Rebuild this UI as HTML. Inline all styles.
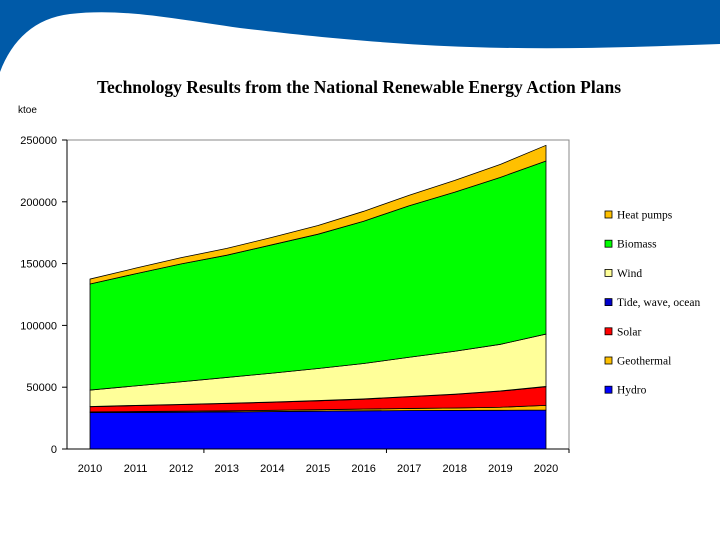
<!DOCTYPE html>
<html><head><meta charset="utf-8"><style>
html,body{margin:0;padding:0;background:#fff;width:720px;height:540px;overflow:hidden}
</style></head><body>
<svg id="chart" width="720" height="540" xmlns="http://www.w3.org/2000/svg">
<path d="M0,0 H720 V44 C640,47 560,50 470,47 C380,44 300,35 240,28 C170,18 120,8 70,14 C35,18 12,40 0,72 Z" fill="#005aa8"/>
<text x="359" y="93" text-anchor="middle" font-family="Liberation Serif, serif" font-weight="bold" font-size="17.5" fill="#000">Technology Results from the National Renewable Energy Action Plans</text>
<text x="18" y="113" font-family="Liberation Sans, sans-serif" font-size="10" fill="#000">ktoe</text>
<g id="plot"></g>
<g id="legend"></g>
</svg>
<script>
const years = ["2010","2011","2012","2013","2014","2015","2016","2017","2018","2019","2020"];
const seriesNames = ["Hydro","Geothermal","Solar","Tide, wave, ocean","Wind","Biomass","Heat pumps"];
const seriesColors = ["#0000ff","#ffc000","#ff0000","#0000cc","#ffff99","#00ff00","#ffc000"];
const hydro = [29400,29600,29800,30000,30300,30600,30900,31100,31200,31300,31500];
const geothermal = [600,700,800,900,1000,1200,1400,1700,2000,2500,3800];
const solar = [4200,4800,5300,5900,6500,7200,8000,9500,11000,13000,15100];
const tide = [200,200,200,200,200,200,200,200,200,200,200];
const wind = [13300,15800,18300,20900,23400,25900,28700,31700,34700,37700,42400];
const biomass = [85800,90700,95400,98900,103900,108700,115100,122600,128700,135100,140000];
const heatPumps = [4000,4500,5000,5500,6000,7000,8000,8500,9500,10500,12700];
const yTicks = [0,50000,100000,150000,200000,250000];

const allSeries = [hydro,geothermal,solar,tide,wind,biomass,heatPumps];
const NS="http://www.w3.org/2000/svg";
const L=67,R=569,T=140,B=449,yMax=250000;
const x0=90,x1=546;
function xPos(i){return x0+(x1-x0)*i/(years.length-1);}
function yPos(v){return B-(B-T)*v/yMax;}
function mk(tag,attrs,parent){const e=document.createElementNS(NS,tag);for(const k in attrs)e.setAttribute(k,attrs[k]);parent.appendChild(e);return e;}
const plot=document.getElementById('plot');
const frame=mk('path',{d:`M${L},${T} H${R} V${B}`,fill:'none',stroke:'#888','stroke-width':1},plot);


let base=years.map(()=>0);
allSeries.forEach((s,si)=>{
  const top=base.map((b,i)=>b+s[i]);
  let d='M'+top.map((v,i)=>xPos(i)+','+yPos(v)).join(' L');
  for(let i=years.length-1;i>=0;i--) d+=' L'+xPos(i)+','+yPos(base[i]);
  d+=' Z';
  const p=mk('path',{d:d,fill:seriesColors[si],stroke:'#000','stroke-width':0.8,'stroke-linejoin':'round'},plot);
  
  
  base=top;
});
const ya=mk('line',{x1:L,y1:T,x2:L,y2:B,stroke:'#000','stroke-width':1},plot);


const xa=mk('line',{x1:L-5,y1:B,x2:R,y2:B,stroke:'#000','stroke-width':1},plot);


yTicks.forEach(v=>{
  const y=yPos(v);
  mk('line',{x1:L-5,y1:y,x2:L,y2:y,stroke:'#000'},plot);
  const t=mk('text',{x:57,y:y+4,'text-anchor':'end','font-family':'Liberation Sans, sans-serif','font-size':11,fill:'#000'},plot);
  t.textContent=String(v);
  
  
});
[L+(R-L)*3/11, L+(R-L)*7/11, R].forEach(x=>mk('line',{x1:x,y1:B,x2:x,y2:B+4,stroke:'#000'},plot));
years.forEach((yr,i)=>{
  const t=mk('text',{x:xPos(i),y:472,'text-anchor':'middle','font-family':'Liberation Sans, sans-serif','font-size':11,fill:'#000'},plot);
  t.textContent=yr;
  
  
});
const leg=document.getElementById('legend');
const order=[6,5,4,3,2,1,0];
order.forEach((si,k)=>{
  const y=216+k*29.2;
  const g=mk('g',{},leg);
  
  
  mk('rect',{x:605,y:y-5,width:7,height:7,fill:seriesColors[si],stroke:'#000','stroke-width':0.8},g);
  const t=mk('text',{x:617,y:y+2.5,'font-family':'Liberation Serif, serif','font-size':11.5,fill:'#000'},g);
  t.textContent=seriesNames[si];
});
</script>
</body></html>
